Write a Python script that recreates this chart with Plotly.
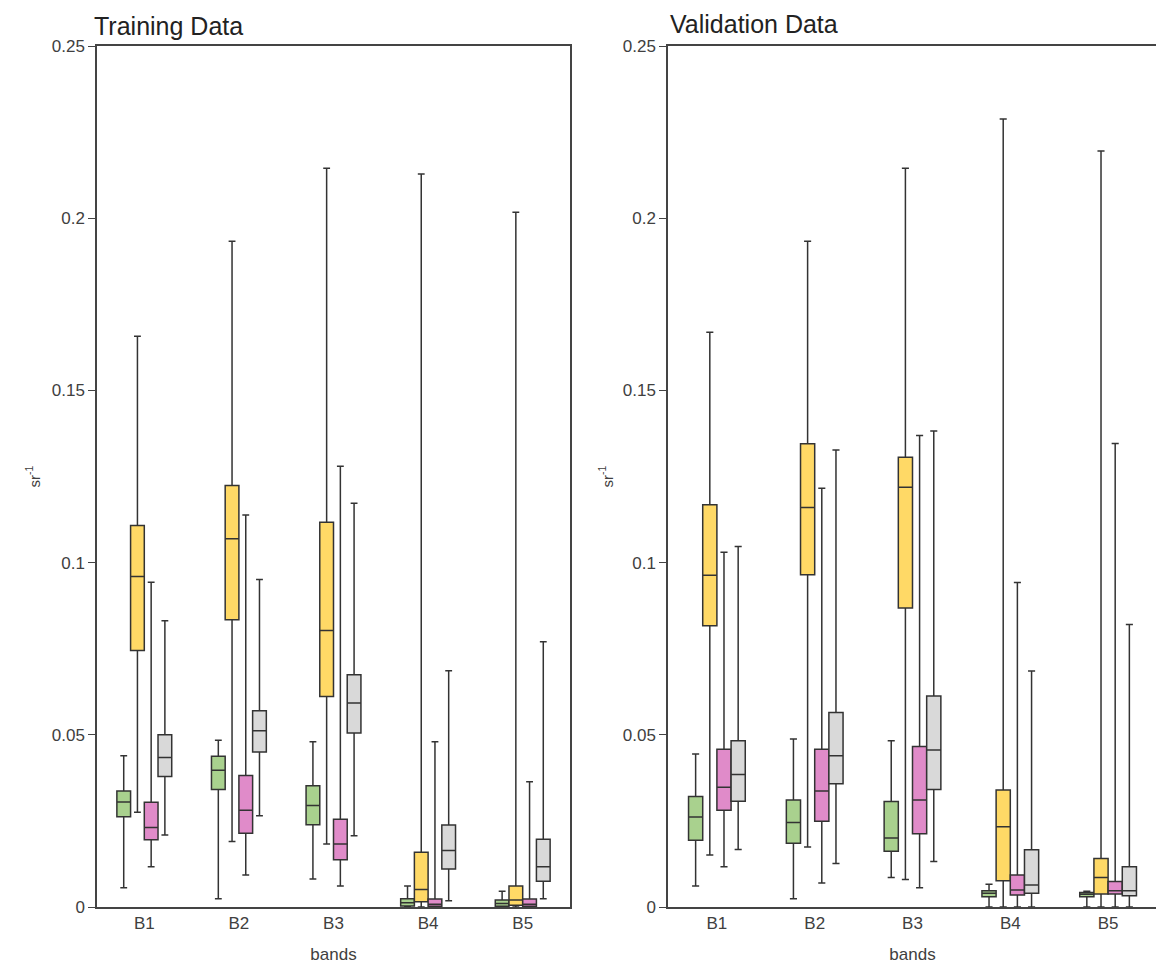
import plotly.graph_objects as go
from plotly.subplots import make_subplots

bands = ["B1", "B2", "B3", "B4", "B5"]
groups = ["green", "yellow", "pink", "gray"]
colors = {"green": "#a9d18e", "yellow": "#ffd966", "pink": "#e08bc9", "gray": "#d9d9d9"}

# Training data: [lower, q1, median, q3, upper] per band
train_green_low = [0.0056, 0.0024, 0.0081, 0.0, 0.0]
train_green_q1 = [0.0262, 0.0341, 0.0239, 0.0003, 0.0002]
train_green_med = [0.0305, 0.0397, 0.0295, 0.0012, 0.0010]
train_green_q3 = [0.0337, 0.0438, 0.0352, 0.0024, 0.0020]
train_green_up = [0.0439, 0.0484, 0.0480, 0.0061, 0.0046]

train_yellow_low = [0.0275, 0.0190, 0.0183, 0.0, 0.0]
train_yellow_q1 = [0.0745, 0.0834, 0.0611, 0.0015, 0.0005]
train_yellow_med = [0.0960, 0.1069, 0.0803, 0.0051, 0.0020]
train_yellow_q3 = [0.1108, 0.1224, 0.1117, 0.0159, 0.0061]
train_yellow_up = [0.1657, 0.1933, 0.2145, 0.2128, 0.2017]

train_pink_low = [0.0117, 0.0093, 0.0061, 0.0, 0.0]
train_pink_q1 = [0.0195, 0.0214, 0.0137, 0.0002, 0.0002]
train_pink_med = [0.0231, 0.0281, 0.0183, 0.0008, 0.0008]
train_pink_q3 = [0.0304, 0.0382, 0.0255, 0.0023, 0.0023]
train_pink_up = [0.0943, 0.1138, 0.1280, 0.0480, 0.0364]

train_gray_low = [0.0209, 0.0265, 0.0207, 0.0018, 0.0024]
train_gray_q1 = [0.0379, 0.0450, 0.0505, 0.0110, 0.0075]
train_gray_med = [0.0434, 0.0512, 0.0592, 0.0164, 0.0117]
train_gray_q3 = [0.0500, 0.0570, 0.0674, 0.0238, 0.0197]
train_gray_up = [0.0831, 0.0951, 0.1172, 0.0686, 0.0770]

# Validation data
val_green_low = [0.0061, 0.0024, 0.0086, 0.0, 0.0]
val_green_q1 = [0.0194, 0.0185, 0.0162, 0.0030, 0.0030]
val_green_med = [0.0261, 0.0245, 0.0200, 0.0040, 0.0037]
val_green_q3 = [0.0321, 0.0311, 0.0306, 0.0047, 0.0042]
val_green_up = [0.0444, 0.0488, 0.0483, 0.0066, 0.0046]

val_yellow_low = [0.0151, 0.0174, 0.0080, 0.0, 0.0]
val_yellow_q1 = [0.0817, 0.0965, 0.0868, 0.0076, 0.0038]
val_yellow_med = [0.0963, 0.1160, 0.1219, 0.0233, 0.0086]
val_yellow_q3 = [0.1168, 0.1345, 0.1306, 0.0340, 0.0141]
val_yellow_up = [0.1669, 0.1933, 0.2145, 0.2288, 0.2195]

val_pink_low = [0.0117, 0.0070, 0.0056, 0.0, 0.0]
val_pink_q1 = [0.0281, 0.0249, 0.0213, 0.0035, 0.0038]
val_pink_med = [0.0348, 0.0337, 0.0311, 0.0049, 0.0047]
val_pink_q3 = [0.0458, 0.0458, 0.0466, 0.0093, 0.0074]
val_pink_up = [0.1030, 0.1216, 0.1369, 0.0942, 0.1346]

val_gray_low = [0.0167, 0.0126, 0.0132, 0.0, 0.0]
val_gray_q1 = [0.0307, 0.0358, 0.0341, 0.0040, 0.0033]
val_gray_med = [0.0385, 0.0439, 0.0456, 0.0064, 0.0047]
val_gray_q3 = [0.0483, 0.0565, 0.0613, 0.0166, 0.0117]
val_gray_up = [0.1047, 0.1327, 0.1382, 0.0685, 0.0820]

y_ticks = [0, 0.05, 0.1, 0.15, 0.2, 0.25]
y_tick_text = ["0", "0.05", "0.1", "0.15", "0.2", "0.25"]

train = {
    "green": (train_green_low, train_green_q1, train_green_med, train_green_q3, train_green_up),
    "yellow": (train_yellow_low, train_yellow_q1, train_yellow_med, train_yellow_q3, train_yellow_up),
    "pink": (train_pink_low, train_pink_q1, train_pink_med, train_pink_q3, train_pink_up),
    "gray": (train_gray_low, train_gray_q1, train_gray_med, train_gray_q3, train_gray_up),
}
val = {
    "green": (val_green_low, val_green_q1, val_green_med, val_green_q3, val_green_up),
    "yellow": (val_yellow_low, val_yellow_q1, val_yellow_med, val_yellow_q3, val_yellow_up),
    "pink": (val_pink_low, val_pink_q1, val_pink_med, val_pink_q3, val_pink_up),
    "gray": (val_gray_low, val_gray_q1, val_gray_med, val_gray_q3, val_gray_up),
}

fig = make_subplots(rows=1, cols=2, horizontal_spacing=0.0)

for col, data in ((1, train), (2, val)):
    for g in groups:
        lo, q1, md, q3, up = data[g]
        fig.add_trace(go.Box(
            x=bands, q1=q1, median=md, q3=q3, lowerfence=lo, upperfence=up,
            name=g, offsetgroup=g, fillcolor=colors[g],
            line=dict(color="#333333", width=1.5),
            whiskerwidth=0.5, boxpoints=False, showlegend=False,
            hoverinfo="skip",
        ), row=1, col=col)

font = "Liberation Sans, Arial, sans-serif"
axis_common = dict(showline=True, linecolor="#444444", linewidth=1.5, mirror=True,
                   showgrid=False, zeroline=False, automargin=False,
                   tickfont=dict(family=font, size=17, color="#404040"))

# page body has an 8px margin, so figure coordinates are offset by 8px
OFF = 8
W, H = 1164 - OFF, 965 - OFF
L, R = 97 - OFF, 1157 - OFF
T, B = 46 - OFF, 907 - OFF
d1 = [0, (570 - OFF - L) / (R - L)]
d2 = [(668 - OFF - L) / (R - L), 1]
PH = B - T


def top_y(px):
    """paper y for a figure-pixel y above the plot area"""
    return 1 + (T - px) / PH


fig.update_layout(
    width=W, height=H,
    margin=dict(l=L, r=W - R, t=T, b=H - B),
    paper_bgcolor="white", plot_bgcolor="white",
    boxmode="group", boxgap=0.42, boxgroupgap=0.0,
    xaxis=dict(domain=d1, ticks="", **axis_common,
               title=dict(text="bands", font=dict(family=font, size=17, color="#404040"), standoff=16)),
    xaxis2=dict(domain=d2, ticks="", **axis_common,
                title=dict(text="bands", font=dict(family=font, size=17, color="#404040"), standoff=16)),
    yaxis=dict(range=[0, 0.25], tickvals=y_ticks, ticktext=y_tick_text, ticks="outside",
               ticklen=7, tickcolor="#444444", **axis_common,
               title=dict(text="sr<sup>-1</sup>", font=dict(family=font, size=15, color="#404040"), standoff=8)),
    yaxis2=dict(range=[0, 0.25], tickvals=y_ticks, ticktext=y_tick_text, ticks="outside",
                ticklen=7, tickcolor="#444444", **axis_common,
                title=dict(text="sr<sup>-1</sup>", font=dict(family=font, size=15, color="#404040"), standoff=6)),
    annotations=[
        dict(text="Training Data", x=0, xref="paper", y=top_y(2), yref="paper", xanchor="left",
             yanchor="top", xshift=-5, showarrow=False,
             font=dict(family=font, size=25, color="#222222")),
        dict(text="Validation Data", x=d2[0], xref="paper", y=top_y(0), yref="paper", xanchor="left",
             yanchor="top", showarrow=False,
             font=dict(family=font, size=25, color="#222222")),
    ],
)

fig.write_html("out.html")
